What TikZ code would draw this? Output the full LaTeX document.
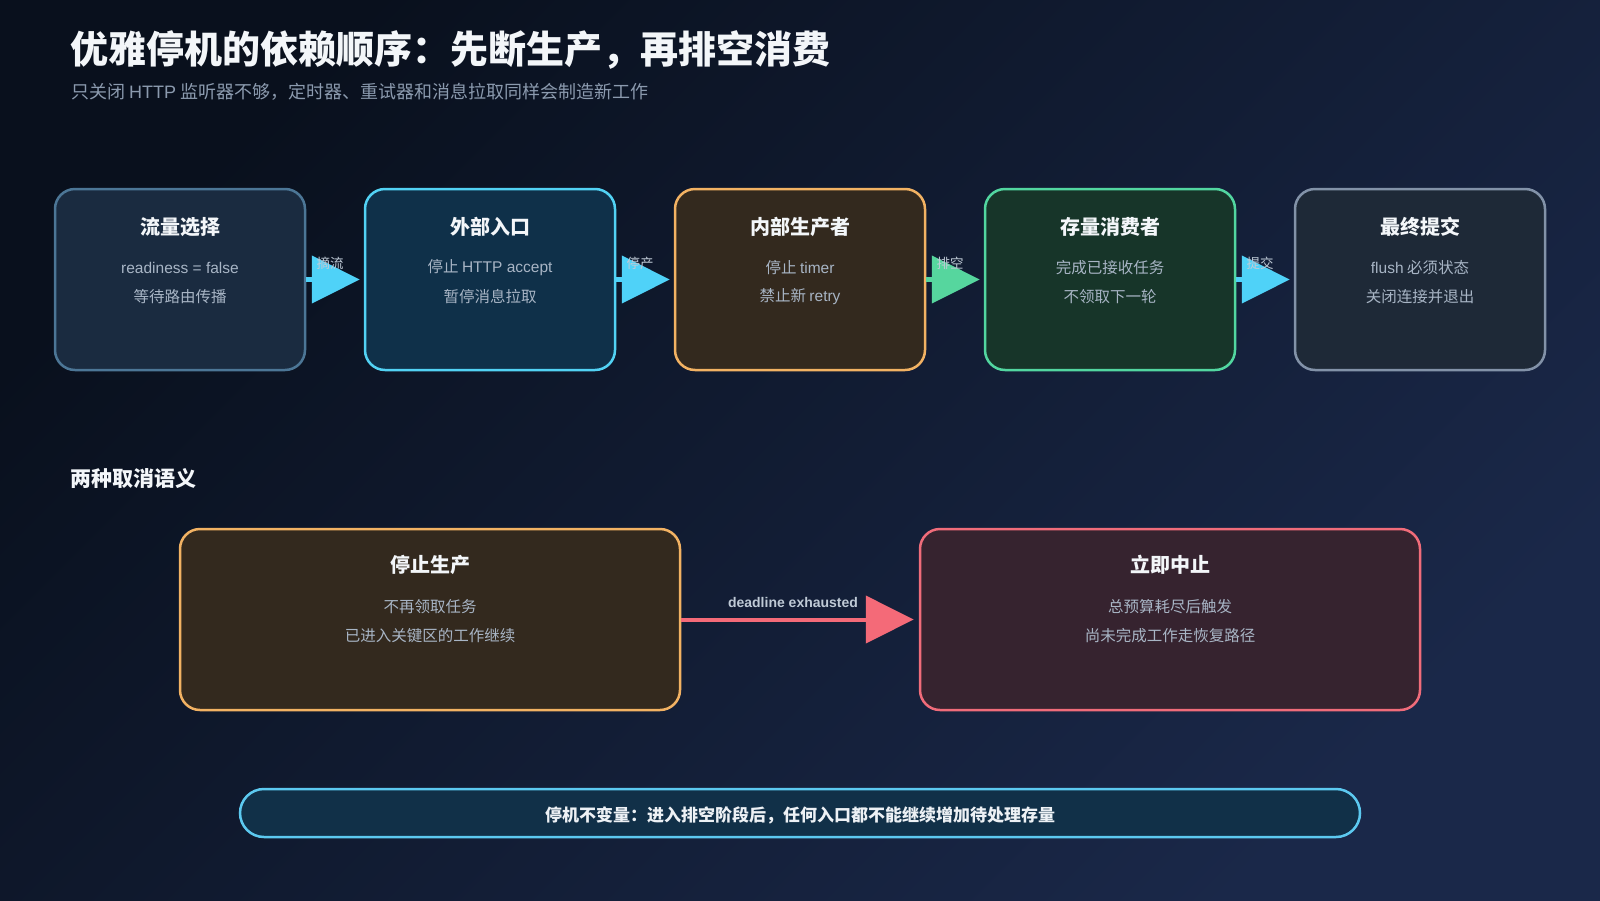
\documentclass[tikz,border=0pt]{standalone}
\usepackage{fontspec}
\setmainfont{Noto Sans CJK SC}
\newfontfamily\lat{Liberation Sans}
\usetikzlibrary{arrows.meta}
\definecolor{bgA}{HTML}{09101D}
\definecolor{bgB}{HTML}{1A2849}
\definecolor{titlec}{HTML}{F3F6F9}
\definecolor{subc}{HTML}{8B9AAE}
\definecolor{linec}{HTML}{A8B5C5}
\definecolor{labc}{HTML}{BFCAD6}
\definecolor{f1}{HTML}{1A2B40}\definecolor{d1}{HTML}{4C7696}
\definecolor{f2}{HTML}{0F3049}\definecolor{d2}{HTML}{52D2F4}
\definecolor{f3}{HTML}{33291E}\definecolor{d3}{HTML}{F2B263}
\definecolor{f4}{HTML}{173529}\definecolor{d4}{HTML}{52D6A0}
\definecolor{f5}{HTML}{1E2937}\definecolor{d5}{HTML}{8292A8}
\definecolor{fB}{HTML}{36232F}\definecolor{dB}{HTML}{F06C7A}
\definecolor{fbar}{HTML}{113048}\definecolor{dbar}{HTML}{5CC9F0}
\definecolor{acyan}{HTML}{4FD2F8}
\definecolor{agreen}{HTML}{56D69E}
\definecolor{ared}{HTML}{F46A78}
\tikzset{
  box/.style={rectangle, rounded corners=20pt, line width=2.5pt, minimum width=250pt, minimum height=181pt, inner sep=0pt},
  wbox/.style={box, minimum width=500pt},
  btitle/.style={text=titlec, font=\fontsize{20}{24}\selectfont\bfseries, inner sep=0pt},
  bline/.style={text=linec, font=\fontsize{15.5}{19}\selectfont, inner sep=0pt},
  conn/.style={line width=4.5pt, -{Triangle[length=48pt,width=47pt]}, shorten >=4pt},
  clab/.style={text=labc, font=\fontsize{13.5}{16}\selectfont, inner sep=0pt},
}
\begin{document}
\begin{tikzpicture}[x=1pt,y=-1pt]
\useasboundingbox (0,0) rectangle (1600,900);
\shade[left color=bgA, right color=bgB, shading angle=45] (0,0) rectangle (1600,900);

\node[anchor=west, text=titlec, font=\fontsize{38}{44}\selectfont\bfseries, inner sep=0pt] (title) at (70,50) {优雅停机的依赖顺序：先断生产，再排空消费};
\node[anchor=west, text=subc, font=\fontsize{18}{22}\selectfont, inner sep=0pt] (sub) at (71,92) {只关闭 {\lat HTTP} 监听器不够，定时器、重试器和消息拉取同样会制造新工作};

% top boxes
\node[box, draw=d1, fill=f1] (b1) at (180,279.5) {};
\node[box, draw=d2, fill=f2] (b2) at (490,279.5) {};
\node[box, draw=d3, fill=f3] (b3) at (800,279.5) {};
\node[box, draw=d4, fill=f4] (b4) at (1110,279.5) {};
\node[box, draw=d5, fill=f5] (b5) at (1420,279.5) {};

\foreach \n/\t/\a/\b in {b1/流量选择/{\lat readiness = false}/等待路由传播,
                         b2/外部入口/停止 {\lat HTTP accept}/暂停消息拉取,
                         b3/内部生产者/停止 {\lat timer}/禁止新 {\lat retry},
                         b4/存量消费者/完成已接收任务/不领取下一轮,
                         b5/最终提交/{\lat flush} 必须状态/关闭连接并退出}{
  \node[btitle] (\n t) at ([yshift=-39.5pt]\n.north) {\t};
  \node[bline] (\n a) at ([yshift=-80pt]\n.north) {\a};
  \node[bline] (\n b) at ([yshift=-108.5pt]\n.north) {\b};
}

\draw[conn, acyan] (b1.east) -- node[clab, xshift=-5pt, yshift=16pt] (l1) {摘流} (b2.west);
\draw[conn, acyan] (b2.east) -- node[clab, xshift=-5pt, yshift=16pt] (l2) {停产} (b3.west);
\draw[conn, agreen] (b3.east) -- node[clab, xshift=-5pt, yshift=16pt] (l3) {排空} (b4.west);
\draw[conn, acyan] (b4.east) -- node[clab, xshift=-5pt, yshift=16pt] (l4) {提交} (b5.west);

% section
\node[anchor=west, text=titlec, font=\fontsize{21}{24}\selectfont\bfseries, inner sep=0pt] (sec) at (70,479) {两种取消语义};

\node[wbox, draw=d3, fill=f3] (ba) at (430,619.5) {};
\node[wbox, draw=dB, fill=fB] (bb) at (1170,619.5) {};
\node[btitle] (bat) at ([yshift=-37pt]ba.north) {停止生产};
\node[bline] (baa) at ([yshift=-79pt]ba.north) {不再领取任务};
\node[bline] (bab) at ([yshift=-108pt]ba.north) {已进入关键区的工作继续};
\node[btitle] (bbt) at ([yshift=-37pt]bb.north) {立即中止};
\node[bline] (bba) at ([yshift=-79pt]bb.north) {总预算耗尽后触发};
\node[bline] (bbb) at ([yshift=-108pt]bb.north) {尚未完成工作走恢复路径};

\draw[conn, ared, line width=4pt, shorten >=5pt] (ba.east) -- node[text=labc, font=\lat\fontsize{14}{16}\selectfont\bfseries, inner sep=0pt, xshift=-7pt, yshift=17pt] (dl) {deadline exhausted} (bb.west);

% bottom bar
\node[rectangle, rounded corners=24pt, line width=2.5pt, draw=dbar, fill=fbar, minimum width=1120pt, minimum height=48pt, inner sep=0pt] (bar) at (800,813) {};
\node[text=titlec!92!linec, font=\fontsize{17}{20}\selectfont\bfseries, inner sep=0pt] (bartext) at ([yshift=-2pt]bar.center) {停机不变量：进入排空阶段后，任何入口都不能继续增加待处理存量};
\end{tikzpicture}
\end{document}
